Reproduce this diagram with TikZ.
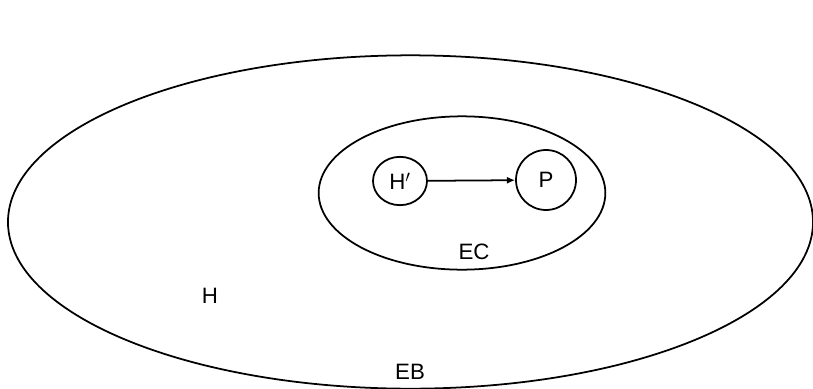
\documentclass[tikz,border=0pt]{standalone}
\usepackage{fontspec}
\setmainfont{Liberation Sans}
\usetikzlibrary{shapes.geometric,arrows.meta}
\begin{document}
\begin{tikzpicture}[x=0.03cm,y=-0.03cm,
  line width=1.5pt,
  bubble/.style={draw,ellipse,inner sep=0pt,font=\fontsize{19}{19}\selectfont},
  lbl/.style={font=\fontsize{19}{19}\selectfont,inner sep=0pt},
  region/.style={draw,ellipse,inner sep=0pt}]
\useasboundingbox (0,0) rectangle (813,388);
\begin{scope}
\clip (0,0) rectangle (813,388);
\node[region,minimum width=24.15cm,minimum height=10.0cm] (EB) at (410.5,222) {};
\end{scope}
\node[region,minimum width=8.6cm,minimum height=4.6cm] (EC) at (462,193) {};
\node[bubble,minimum width=1.62cm,minimum height=1.45cm] (Hp) at (400,181) {H$'$};
\node[bubble,minimum width=1.8cm,minimum height=1.8cm] (P) at (546,180) {P};
\draw[-{Latex[length=7pt,width=6pt]}] (Hp) -- (P);
\node[lbl] (ECl) at (474,252) {EC};
\node[lbl] (Hl) at (210,296) {H};
\node[lbl] (EBl) at (410,372) {EB};
\end{tikzpicture}
\end{document}
